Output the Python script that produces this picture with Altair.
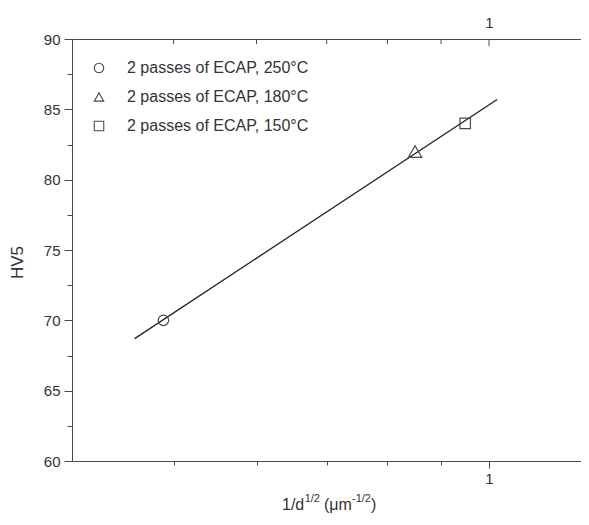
import altair as alt
import pandas as pd

# ---- data ----
series = ["2 passes of ECAP, 250°C", "2 passes of ECAP, 180°C", "2 passes of ECAP, 150°C"]
inv_sqrt_d = [0.489, 0.850, 0.949]
hv5 = [70.0, 82.0, 84.0]
shapes = ["circle", "triangle-up", "square"]

fit_x = [0.459, 1.018]
fit_y = [68.7, 85.7]

x_minor = [0.5, 0.6, 0.7, 0.8, 0.9]
x_major = [1.0]
x_ticks = x_minor + x_major
y_ticks = [60, 62.5, 65, 67.5, 70, 72.5, 75, 77.5, 80, 82.5, 85, 87.5, 90]

title_parts = ["1/d", "1/2", "(μm", "-1/2", ")"]

FONT = "Liberation Sans"
INK = "#333333"
AX = "#4a4a4a"

pts = pd.DataFrame({"series": series, "x": inv_sqrt_d, "y": hv5})
fit = pd.DataFrame({"x": fit_x, "y": fit_y})
minor_df = pd.DataFrame({"x": x_minor})
major_df = pd.DataFrame({"x": x_major})

xscale = alt.Scale(type="log", domain=[0.4, 1.224], nice=False)
yscale = alt.Scale(domain=[60, 90], nice=False, zero=False)

x_bottom_axis = alt.Axis(
    orient="bottom", values=x_ticks, title=None, grid=False,
    labelExpr="datum.value === 1 ? '1' : ''",
    tickSize={"condition": {"test": "datum.value === 1", "value": 7}, "value": 4},
    labelPadding=3, labelFontSize=15, labelColor=INK, labelFont=FONT,
    domainColor=AX, tickColor=AX, labelOverlap=False,
)
y_axis = alt.Axis(
    values=y_ticks, grid=False, title="HV5",
    labelExpr="datum.value % 5 === 0 ? datum.label : ''",
    tickSize={"condition": {"test": "datum.value % 5 === 0", "value": 8}, "value": 5},
    labelPadding=4, labelFontSize=15, labelColor=INK, labelFont=FONT,
    domainColor=AX, tickColor=AX, labelOverlap=False,
    titleFontSize=17, titleFont=FONT, titleFontWeight="normal", titleColor=INK,
    titleX=-55, titleY=223, titleAngle=-90, titleAlign="center", titleBaseline="middle",
)
x_top_axis = alt.Axis(
    orient="top", values=x_major, title=None, grid=False, tickSize=0,
    labelPadding=9, labelFontSize=15, labelColor=INK, labelFont=FONT,
    domainColor=AX, labelOverlap=False,
)

line = alt.Chart(fit).mark_line(color="#222222", strokeWidth=1.3).encode(
    x=alt.X("x:Q", scale=xscale, axis=x_bottom_axis),
    y=alt.Y("y:Q", scale=yscale, axis=y_axis),
)

points = alt.Chart(pts).mark_point(filled=False, strokeWidth=1.2, opacity=1, color=AX).encode(
    x=alt.X("x:Q", scale=xscale, axis=None),
    y=alt.Y("y:Q", scale=yscale, axis=y_axis),
    shape=alt.Shape(
        "series:N",
        scale=alt.Scale(domain=series, range=shapes),
        legend=alt.Legend(
            orient="none", legendX=19, legendY=21, title=None, padding=0,
            labelFontSize=16, labelFont=FONT, labelColor=INK, labelOffset=20,
            labelLimit=0, rowPadding=13, symbolSize=90, symbolStrokeWidth=1.1,
            symbolStrokeColor=AX, symbolFillColor="transparent",
        ),
    ),
    size=alt.condition(alt.datum.series == series[1], alt.value(180), alt.value(110)),
)

top_minor = alt.Chart(minor_df).mark_rule(color=AX, strokeWidth=1).encode(
    x=alt.X("x:Q", scale=xscale, axis=x_top_axis),
    y=alt.value(0), y2=alt.value(5),
)
top_major = alt.Chart(major_df).mark_rule(color=AX, strokeWidth=1).encode(
    x=alt.X("x:Q", scale=xscale, axis=None),
    y=alt.value(0), y2=alt.value(7),
)

# x-axis title with superscripts
title_x = [210, 232.7, 252, 280, 299]
title_y = [471, 463, 471, 463, 471]
title_size = [16, 11, 16, 11, 16]
title_layers = []
for t, tx, ty, ts in zip(title_parts, title_x, title_y, title_size):
    title_layers.append(
        alt.Chart(pd.DataFrame({"t": [t]})).mark_text(
            align="left", baseline="alphabetic", fontSize=ts, font=FONT, color=INK
        ).encode(text="t:N", x=alt.value(tx), y=alt.value(ty))
    )

chart = alt.layer(line, points, top_minor, top_major, *title_layers).resolve_axis(
    x="independent"
).properties(
    width=509, height=422,
    autosize=alt.AutoSizeParams(type="none"),
    padding={"left": 64, "top": 31, "right": 0, "bottom": 56},
    background="white",
).configure_view(stroke=None).configure(font=FONT)

chart.save("out.html", embed_options={"renderer": "svg", "actions": False})
